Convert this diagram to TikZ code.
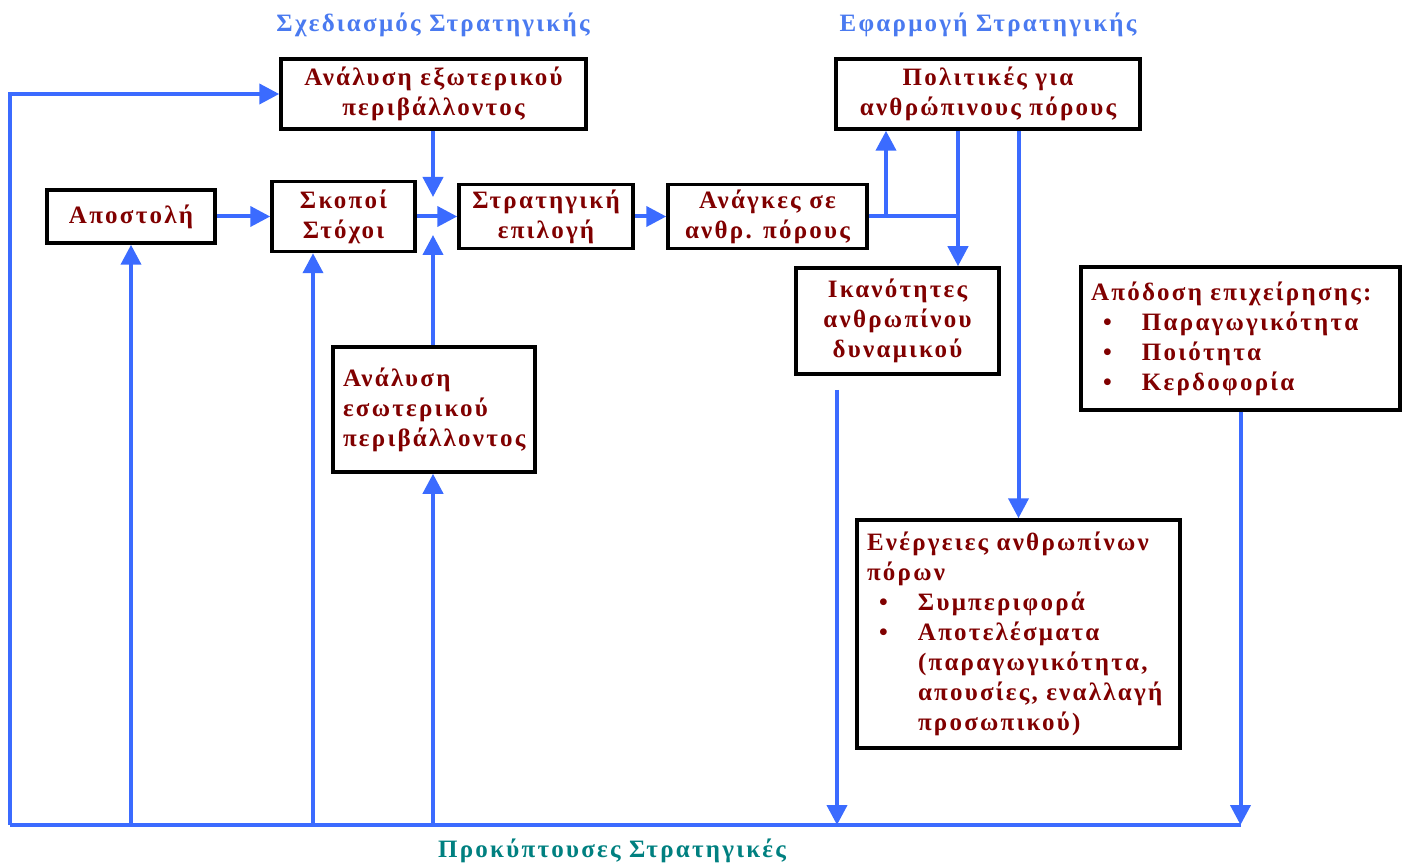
\documentclass[tikz,border=0pt]{standalone}
\usepackage{fontspec}
\setmainfont{Liberation Serif}[LetterSpace=9]
\usetikzlibrary{arrows.meta}

\definecolor{flowblue}{RGB}{59,107,255}
\definecolor{titleblue}{RGB}{74,122,240}
\definecolor{boxred}{RGB}{128,0,0}
\definecolor{darkteal}{RGB}{0,128,128}

\newcommand{\bul}[1]{\hspace*{12pt}\makebox[39pt][l]{•}#1}
\newcommand{\cont}[1]{\hspace*{51pt}#1}

\tikzset{
  box/.style={draw, line width=3.5pt, text=boxred, align=center, inner sep=0pt,
    font=\fontsize{25}{30}\selectfont\bfseries},
  flow/.style={draw=flowblue, line width=4pt},
  arr/.style={flow, -{Triangle[width=20pt,length=20pt]}},
  heading/.style={font=\fontsize{25}{30}\selectfont\bfseries}
}

\begin{document}
\begin{tikzpicture}[x=1pt,y=-1pt]
\useasboundingbox (0,0) rectangle (1406,866);

% titles
\node[heading, text=titleblue] (plantitle) at (433,25) {Σχεδιασμός Στρατηγικής};
\node[heading, text=titleblue] (impltitle) at (988,25) {Εφαρμογή Στρατηγικής};
\node[heading, text=darkteal] (emergtitle) at (612,851) {Προκύπτουσες Στρατηγικές};

% boxes
\node[box, minimum width=305pt, minimum height=70pt] (extan) at (433.5,94) {Ανάλυση εξωτερικού\\περιβάλλοντος};
\node[box, minimum width=168pt, minimum height=53pt] (apostoli) at (131,216.5) {Αποστολή};
\node[box, minimum width=143pt, minimum height=70pt] (skopoi) at (343.5,216.5) {Σκοποί\\Στόχοι};
\node[box, minimum width=174pt, minimum height=64pt] (strat) at (546,216.5) {Στρατηγική\\επιλογή};
\node[box, minimum width=199pt, minimum height=64pt] (anagkes) at (767.5,216.5) {Ανάγκες σε\\ανθρ. πόρους};
\node[box, minimum width=304pt, minimum height=70pt] (politikes) at (988,94) {Πολιτικές για\\ανθρώπινους πόρους};
\node[box, minimum width=203pt, minimum height=106pt] (ikanot) at (897.5,321) {Ικανότητες\\ανθρωπίνου\\δυναμικού};
\node[box, minimum width=202pt, minimum height=125pt, text width=182pt, align=left] (intan) at (434,409.5) {Ανάλυση\\εσωτερικού\\περιβάλλοντος};
\node[box, minimum width=319pt, minimum height=143pt, text width=299pt, align=left] (apodosi) at (1240.5,338.5)
  {Απόδοση επιχείρησης:\\\bul{Παραγωγικότητα}\\\bul{Ποιότητα}\\\bul{Κερδοφορία}};
\node[box, minimum width=323pt, minimum height=228pt, text width=303pt, align=left] (energ) at (1018.5,634)
  {Ενέργειες ανθρωπίνων\\πόρων\\\bul{Συμπεριφορά}\\\bul{Αποτελέσματα}\\\cont{(παραγωγικότητα,}\\\cont{απουσίες, εναλλαγή}\\\cont{προσωπικού)}};

% junctions
\coordinate (loopbl) at (10,825);
\coordinate (b2) at (313,825);
\coordinate (b3) at (433,825);
\coordinate (gapdn) at (433,197);
\coordinate (gapup) at (433,235);
\coordinate (j1) at (886,216.5);
\coordinate (j2) at (958,216.5);
\coordinate (ikout) at (837,390);

% connectors
\draw[flow] (loopbl) -- (apodosi |- loopbl);
\draw[arr] (loopbl) |- (extan);
\draw[arr] (apostoli |- loopbl) -- (apostoli);
\draw[arr] (b2) -- (b2 |- skopoi.south);
\draw[arr] (b3) -- (b3 |- intan.south);
\draw[arr] (b3 |- intan.north) -- (gapup);
\draw[arr] (b3 |- extan.south) -- (gapdn);
\draw[arr] (apostoli) -- (skopoi);
\draw[arr] (skopoi) -- (strat);
\draw[arr] (strat) -- (anagkes);
\draw[flow] (anagkes) -- (j2);
\draw[arr] (j1) -- (j1 |- politikes.south);
\draw[arr] (j2 |- politikes.south) -- (j2 |- ikanot.north);
\draw[arr] (energ |- politikes.south) -- (energ);
\draw[arr] (ikout) -- (ikout |- loopbl);
\draw[arr] (apodosi) -- (apodosi |- loopbl);
\end{tikzpicture}
\end{document}
